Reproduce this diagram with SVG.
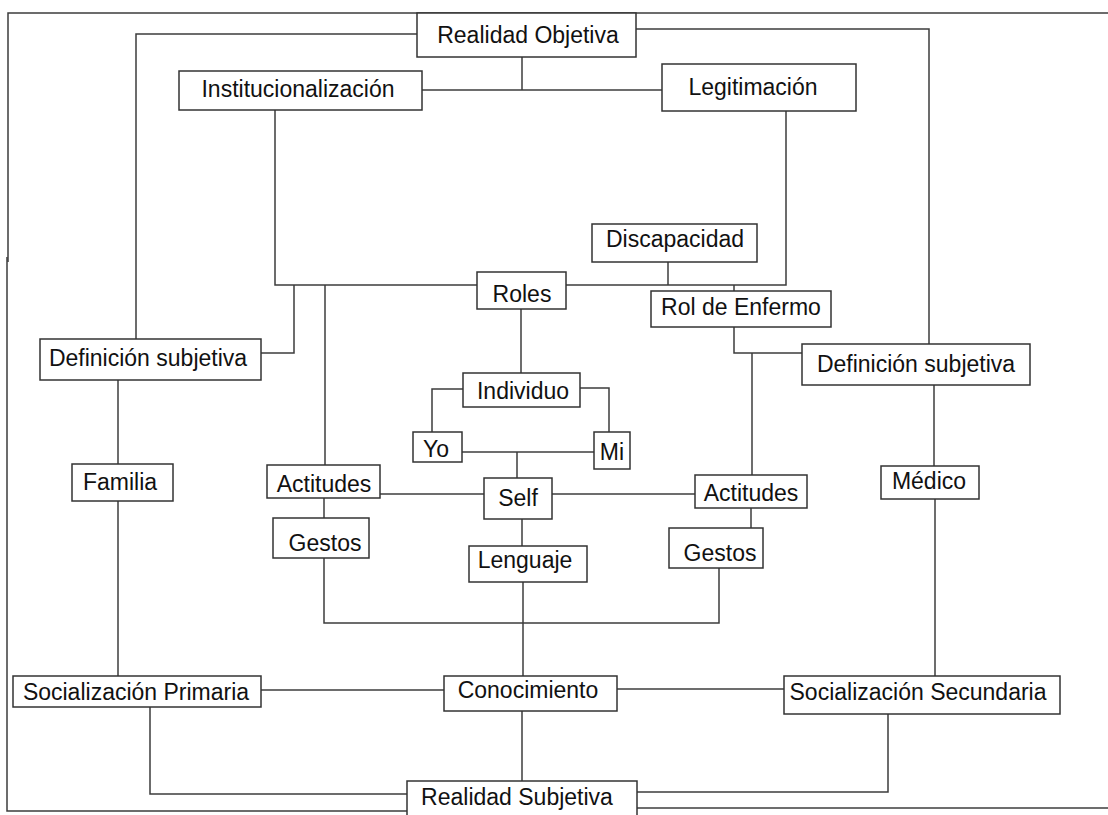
<svg xmlns="http://www.w3.org/2000/svg" width="1108" height="815" viewBox="0 0 1108 815">
  <style>
    .box { fill: #ffffff; stroke: #333333; stroke-width: 1.5; }
    .lbl { font-family: "Liberation Sans", Arial, sans-serif; font-size: 23px; fill: #111111; text-anchor: middle; }
    .wire { fill: none; stroke: #3c3c3c; stroke-width: 1.5; }
  </style>
  <rect width="1108" height="815" fill="#ffffff"/>

  <!-- connectors -->
  <g id="connectors" class="wire">
    <!-- outer frame -->
    <polyline points="1108,13 8,13 8,262"/>
    <polyline points="7,257 7,811 407,811"/>
    <line x1="637" y1="808" x2="1108" y2="808"/>
    <!-- inner frame from Realidad Objetiva to both Definicion subjetiva -->
    <polyline points="417,34 136,34 136,339"/>
    <polyline points="636,29 929,29 929,344"/>
    <!-- Realidad Objetiva to Institucionalizacion / Legitimacion -->
    <line x1="522" y1="57" x2="522" y2="90"/>
    <line x1="422" y1="90" x2="662" y2="90"/>
    <!-- roles bar -->
    <polyline points="275,110 275,285 477,285"/>
    <polyline points="566,285 786,285 786,111"/>
    <line x1="668" y1="262" x2="668" y2="285"/>
    <line x1="734" y1="285" x2="734" y2="291"/>
    <polyline points="294,285 294,353 261,353"/>
    <line x1="325" y1="285" x2="325" y2="465"/>
    <!-- Rol de Enfermo to Definicion subjetiva right -->
    <polyline points="734,327 734,353 802,353"/>
    <line x1="752" y1="353" x2="752" y2="475"/>
    <!-- Roles / Individuo / Yo / Mi / Self -->
    <line x1="521" y1="309" x2="521" y2="373"/>
    <polyline points="463,389 432,389 432,432"/>
    <polyline points="580,388 609,388 609,432"/>
    <line x1="462" y1="452" x2="594" y2="452"/>
    <line x1="517" y1="452" x2="517" y2="478"/>
    <line x1="380" y1="494" x2="484" y2="494"/>
    <line x1="552" y1="494" x2="695" y2="494"/>
    <!-- Actitudes to Gestos -->
    <line x1="324" y1="498" x2="324" y2="518"/>
    <line x1="751" y1="508" x2="751" y2="528"/>
    <!-- Self / Lenguaje / Conocimiento -->
    <line x1="522" y1="519" x2="522" y2="546"/>
    <line x1="523" y1="582" x2="523" y2="676"/>
    <polyline points="324,558 324,623 719,623 719,568"/>
    <line x1="261" y1="690" x2="444" y2="690"/>
    <line x1="617" y1="689" x2="784" y2="689"/>
    <line x1="522" y1="711" x2="522" y2="781"/>
    <!-- left column -->
    <line x1="118" y1="380" x2="118" y2="464"/>
    <line x1="118" y1="501" x2="118" y2="676"/>
    <polyline points="150,707 150,794 407,794"/>
    <!-- right column -->
    <line x1="934" y1="385" x2="934" y2="466"/>
    <line x1="935" y1="499" x2="935" y2="676"/>
    <polyline points="888,714 888,792 637,792"/>
  </g>

  <!-- nodes -->
  <g id="realidad-objetiva"><rect class="box" x="417" y="13" width="219" height="44"/><text class="lbl" x="528" y="43">Realidad Objetiva</text></g>
  <g id="institucionalizacion"><rect class="box" x="179" y="71" width="243" height="39"/><text class="lbl" x="298" y="97">Institucionalización</text></g>
  <g id="legitimacion"><rect class="box" x="662" y="64" width="194" height="47"/><text class="lbl" x="753" y="95">Legitimación</text></g>
  <g id="discapacidad"><rect class="box" x="592" y="224" width="165" height="38"/><text class="lbl" x="675" y="247">Discapacidad</text></g>
  <g id="roles"><rect class="box" x="477" y="272" width="89" height="37"/><text class="lbl" x="522" y="302">Roles</text></g>
  <g id="rol-de-enfermo"><rect class="box" x="651" y="291" width="180" height="36"/><text class="lbl" x="741" y="315">Rol de Enfermo</text></g>
  <g id="definicion-subjetiva-izq"><rect class="box" x="40" y="339" width="221" height="41"/><text class="lbl" x="148" y="366">Definición subjetiva</text></g>
  <g id="definicion-subjetiva-der"><rect class="box" x="802" y="344" width="228" height="41"/><text class="lbl" x="916" y="372">Definición subjetiva</text></g>
  <g id="individuo"><rect class="box" x="463" y="373" width="117" height="34"/><text class="lbl" x="523" y="399">Individuo</text></g>
  <g id="yo"><rect class="box" x="413" y="432" width="49" height="30"/><text class="lbl" x="436" y="457">Yo</text></g>
  <g id="mi"><rect class="box" x="594" y="432" width="36" height="37"/><text class="lbl" x="612" y="460">Mi</text></g>
  <g id="self"><rect class="box" x="484" y="478" width="68" height="41"/><text class="lbl" x="518" y="506">Self</text></g>
  <g id="actitudes-izq"><rect class="box" x="267" y="465" width="113" height="33"/><text class="lbl" x="324" y="492">Actitudes</text></g>
  <g id="actitudes-der"><rect class="box" x="695" y="475" width="112" height="33"/><text class="lbl" x="751" y="501">Actitudes</text></g>
  <g id="gestos-izq"><rect class="box" x="273" y="518" width="96" height="40"/><text class="lbl" x="325" y="551">Gestos</text></g>
  <g id="gestos-der"><rect class="box" x="669" y="528" width="94" height="40"/><text class="lbl" x="720" y="561">Gestos</text></g>
  <g id="familia"><rect class="box" x="72" y="464" width="101" height="37"/><text class="lbl" x="120" y="490">Familia</text></g>
  <g id="medico"><rect class="box" x="881" y="466" width="98" height="33"/><text class="lbl" x="929" y="489">Médico</text></g>
  <g id="lenguaje"><rect class="box" x="469" y="546" width="118" height="36"/><text class="lbl" x="525" y="568">Lenguaje</text></g>
  <g id="conocimiento"><rect class="box" x="444" y="676" width="173" height="35"/><text class="lbl" x="528" y="698">Conocimiento</text></g>
  <g id="socializacion-primaria"><rect class="box" x="13" y="676" width="248" height="31"/><text class="lbl" x="136" y="700">Socialización Primaria</text></g>
  <g id="socializacion-secundaria"><rect class="box" x="784" y="676" width="276" height="38"/><text class="lbl" x="918" y="700">Socialización Secundaria</text></g>
  <g id="realidad-subjetiva"><rect class="box" x="407" y="781" width="230" height="40"/><text class="lbl" x="517" y="805">Realidad Subjetiva</text></g>
</svg>
